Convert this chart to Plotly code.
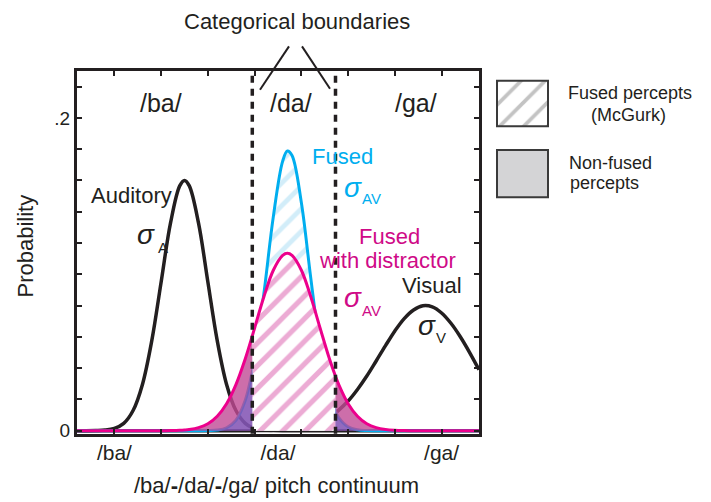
import plotly.graph_objects as go

# ---------------- data ----------------
x_grid = [0.2, 0.4, 0.6, 0.8, 1.0, 1.2, 1.4, 1.6, 1.8, 2.0, 2.2, 2.4, 2.5, 2.6, 2.8,
          3.0, 3.2, 3.4, 3.6, 3.8, 3.95, 4.0, 4.2, 4.4, 4.6, 4.7, 4.8, 5.0, 5.2, 5.4,
          5.6, 5.73, 5.8, 6.0, 6.2, 6.4, 6.6, 6.8, 7.0, 7.2, 7.4, 7.6, 7.8, 8.0, 8.2,
          8.4, 8.6, 8.8]

auditory = [0, 0, 0.0001, 0.0004, 0.0015, 0.0047, 0.0129, 0.0296, 0.0576, 0.0951, 0.1327,
            0.1567, 0.160, 0.1567, 0.1327, 0.0951, 0.0576, 0.0296, 0.0129, 0.0047, 0.0020,
            0.0015, 0.0004, 0.0001, 0, 0, 0, 0, 0, 0, 0, 0, 0, 0, 0, 0, 0, 0, 0, 0, 0, 0,
            0, 0, 0, 0, 0, 0]

fused = [0, 0, 0, 0, 0, 0, 0, 0, 0, 0, 0, 0, 0, 0, 0, 0.0001, 0.0004, 0.0019, 0.0067,
         0.0195, 0.0379, 0.0460, 0.0882, 0.1369, 0.1724, 0.1788, 0.1760, 0.1458, 0.0979,
         0.0533, 0.0236, 0.0124, 0.0084, 0.0025, 0.0006, 0.0001, 0, 0, 0, 0, 0, 0, 0, 0,
         0, 0, 0, 0]

fused_distractor = [0, 0, 0, 0, 0, 0, 0, 0, 0, 0, 0.0001, 0.0003, 0.0005, 0.0008, 0.0020,
                    0.0045, 0.0093, 0.0173, 0.0295, 0.0460, 0.0606, 0.0657, 0.0858, 0.1026,
                    0.1121, 0.1134, 0.1121, 0.1026, 0.0858, 0.0657, 0.0460, 0.0348, 0.0295,
                    0.0173, 0.0093, 0.0045, 0.0020, 0.0008, 0.0003, 0.0001, 0, 0, 0, 0, 0,
                    0, 0, 0]

visual = [0, 0, 0, 0, 0, 0, 0, 0, 0, 0, 0, 0, 0, 0, 0, 0, 0, 0, 0, 0, 0.0001, 0.0001,
          0.0002, 0.0003, 0.0006, 0.0008, 0.0011, 0.0020, 0.0034, 0.0056, 0.0088, 0.0115,
          0.0132, 0.0190, 0.0264, 0.0350, 0.0446, 0.0544, 0.0638, 0.0717, 0.0772, 0.0799,
          0.0792, 0.0753, 0.0687, 0.0601, 0.0500, 0.0390]

boundaries = [3.95, 5.73]
x_minor_ticks = [1, 2, 3, 4, 5, 6, 7, 8]
x_label_vals = [1, 4.5, 8]
x_label_text = ["/ba/", "/da/", "/ga/"]
y_minor_ticks = [0.02, 0.04, 0.06, 0.08, 0.10, 0.12, 0.14, 0.16, 0.18, 0.22]
y_label_vals = [0, 0.2]
y_label_text = ["0", ".2"]

# ---------------- styling ----------------
W, H = 711, 502
FONT = "Liberation Sans, Arial, Helvetica, sans-serif"
BLACK = "#231f20"
BLUE = "#00aeef"
MAG = "#ec008c"
MAG_TXT = "#cf0a87"


def px(x):
    return x / W


def py(y):
    return 1 - y / H


def subset(xs, ys, cond):
    pts = [(a, b) for a, b in zip(xs, ys) if cond(a)]
    return [p[0] for p in pts], [p[1] for p in pts]


lo, hi = boundaries
fig = go.Figure()

# black curves (drawn beneath the fills)
for ys in (auditory, visual):
    fig.add_trace(go.Scatter(x=x_grid, y=ys, mode="lines",
                             line=dict(color=BLACK, width=3.5, shape="spline"),
                             hoverinfo="skip", showlegend=False))

# blue hatched fused region
cx, cy = subset(x_grid, fused, lambda a: lo <= a <= hi)
fig.add_trace(go.Scatter(x=cx, y=cy, mode="lines", fill="tozeroy",
                         line=dict(width=0, shape="spline"), fillcolor="white",
                         fillpattern=dict(shape="/", fgcolor="#a6dcf4", bgcolor="white",
                                          size=16, solidity=0.3, fgopacity=0.5),
                         hoverinfo="skip", showlegend=False))

# blue curve
fig.add_trace(go.Scatter(x=x_grid, y=fused, mode="lines",
                         line=dict(color=BLUE, width=3, shape="spline"),
                         hoverinfo="skip", showlegend=False))

# magenta hatched fused region
cx, cy = subset(x_grid, fused_distractor, lambda a: lo <= a <= hi)
fig.add_trace(go.Scatter(x=cx, y=cy, mode="lines", fill="tozeroy",
                         line=dict(width=0, shape="spline"), fillcolor="white",
                         fillpattern=dict(shape="/", fgcolor="#e27dbd", bgcolor="white",
                                          size=16, solidity=0.32, fgopacity=0.65),
                         hoverinfo="skip", showlegend=False))

# non-fused tails (magenta then blue overlay)
for ys, col in ((fused_distractor, "rgba(192,74,149,0.8)"),
                (fused, "rgba(60,100,220,0.4)")):
    for cond in (lambda a: a <= lo, lambda a: a >= hi):
        tx, ty = subset(x_grid, ys, cond)
        fig.add_trace(go.Scatter(x=tx, y=ty, mode="lines", fill="tozeroy",
                                 line=dict(width=0, shape="spline"), fillcolor=col,
                                 hoverinfo="skip", showlegend=False))

# magenta curve
fig.add_trace(go.Scatter(x=x_grid, y=fused_distractor, mode="lines",
                         line=dict(color=MAG, width=3, shape="spline"),
                         hoverinfo="skip", showlegend=False))

# legend swatch (hatched) on a helper axis
fig.add_trace(go.Scatter(x=[0, 1, 1, 0, 0], y=[0, 0, 1, 1, 0], mode="lines",
                         fill="toself", fillcolor="white", line=dict(width=0),
                         fillpattern=dict(shape="/", fgcolor="#b4b4b4", bgcolor="white",
                                          size=17, solidity=0.22, fgopacity=0.8),
                         xaxis="x2", yaxis="y2", hoverinfo="skip", showlegend=False))

# categorical boundaries
for b in boundaries:
    fig.add_vline(x=b, line=dict(color=BLACK, width=3.5, dash="7px,6px"), layer="above")

shapes = [
    dict(type="line", xref="paper", yref="paper", x0=px(289), y0=py(47), x1=px(260), y1=py(91),
         line=dict(color=BLACK, width=2)),
    dict(type="line", xref="paper", yref="paper", x0=px(302), y0=py(47), x1=px(330), y1=py(90),
         line=dict(color=BLACK, width=2)),
    dict(type="rect", xref="paper", yref="paper", x0=px(497), y0=py(128), x1=px(548), y1=py(82),
         line=dict(color="#3a3a3a", width=2)),
    dict(type="rect", xref="paper", yref="paper", x0=px(497), y0=py(200), x1=px(548), y1=py(152),
         line=dict(color="#3a3a3a", width=2), fillcolor="#d4d4d6"),
]
for s in shapes:
    fig.add_shape(**s)


def ann(text, x, y, size=22, color=BLACK, xanchor="center", angle=0):
    fig.add_annotation(text=text, x=px(x), y=py(y), xref="paper", yref="paper",
                       showarrow=False, xanchor=xanchor, yanchor="middle",
                       textangle=angle, font=dict(family=FONT, size=size, color=color))


ann("Categorical boundaries", 297, 22)
ann("/ba/", 161, 104, 25)
ann("/da/", 291, 104, 25)
ann("/ga/", 416, 104, 25)
ann("Probability", 26, 250, 22, angle=-90)
ann("/ba/<b>-</b>/da/<b>-</b>/ga/ pitch continuum", 276, 492, 22)

ann("Auditory", 131, 198)
ann("<i>σ</i>", 146, 238, 28)
ann("A", 163, 251, 15)

ann("Fused", 342, 159, 22, BLUE)
ann("<i>σ</i>", 353, 190, 28, BLUE)
ann("AV", 371, 201, 15, BLUE)

ann("Fused", 389, 240, 22, MAG_TXT)
ann("with distractor", 388, 264, 22, MAG_TXT)
ann("<i>σ</i>", 353, 302, 28, MAG_TXT)
ann("AV", 371, 315, 15, MAG_TXT)

ann("Visual", 432, 290)
ann("<i>σ</i>", 427, 330, 28)
ann("V", 441, 342, 15)

ann("Fused percepts", 630, 94, 18)
ann("(McGurk)", 628, 117, 18)
ann("Non-fused", 567, 165, 18, xanchor="left")
ann("percepts", 568, 186, 18, xanchor="left")

fig.update_layout(
    width=W, height=H,
    margin=dict(l=0, r=0, t=0, b=0),
    paper_bgcolor="white", plot_bgcolor="white",
    font=dict(family=FONT, color=BLACK),
    xaxis=dict(domain=[px(77), px(479)], range=[0.2, 8.8], showgrid=False, zeroline=False,
               showline=True, linewidth=3, linecolor=BLACK, mirror="ticks",
               tickmode="array", tickvals=x_label_vals, ticktext=x_label_text,
               ticks="", tickfont=dict(family=FONT, size=21, color=BLACK),
               ticklabelstandoff=-2,
               minor=dict(tickmode="array", tickvals=x_minor_ticks, ticks="inside",
                          ticklen=5, tickwidth=1.5, tickcolor=BLACK, showgrid=False)),
    yaxis=dict(domain=[1 - 440 / H, 1 - 72 / H], range=[-0.002, 0.23], showgrid=False,
               zeroline=False, showline=True, linewidth=3, linecolor=BLACK, mirror="ticks",
               tickmode="array", tickvals=y_label_vals, ticktext=y_label_text,
               ticks="inside", ticklen=5, tickwidth=1.5, tickcolor=BLACK,
               tickfont=dict(family=FONT, size=19, color=BLACK),
               minor=dict(tickmode="array", tickvals=y_minor_ticks, ticks="inside",
                          ticklen=5, tickwidth=1.5, tickcolor=BLACK, showgrid=False)),
    xaxis2=dict(domain=[px(497), px(548)], range=[0, 1], visible=False, anchor="y2",
                fixedrange=True),
    yaxis2=dict(domain=[1 - 128 / H, 1 - 82 / H], range=[0, 1], visible=False, anchor="x2",
                fixedrange=True),
)

fig.write_html("out.html")
